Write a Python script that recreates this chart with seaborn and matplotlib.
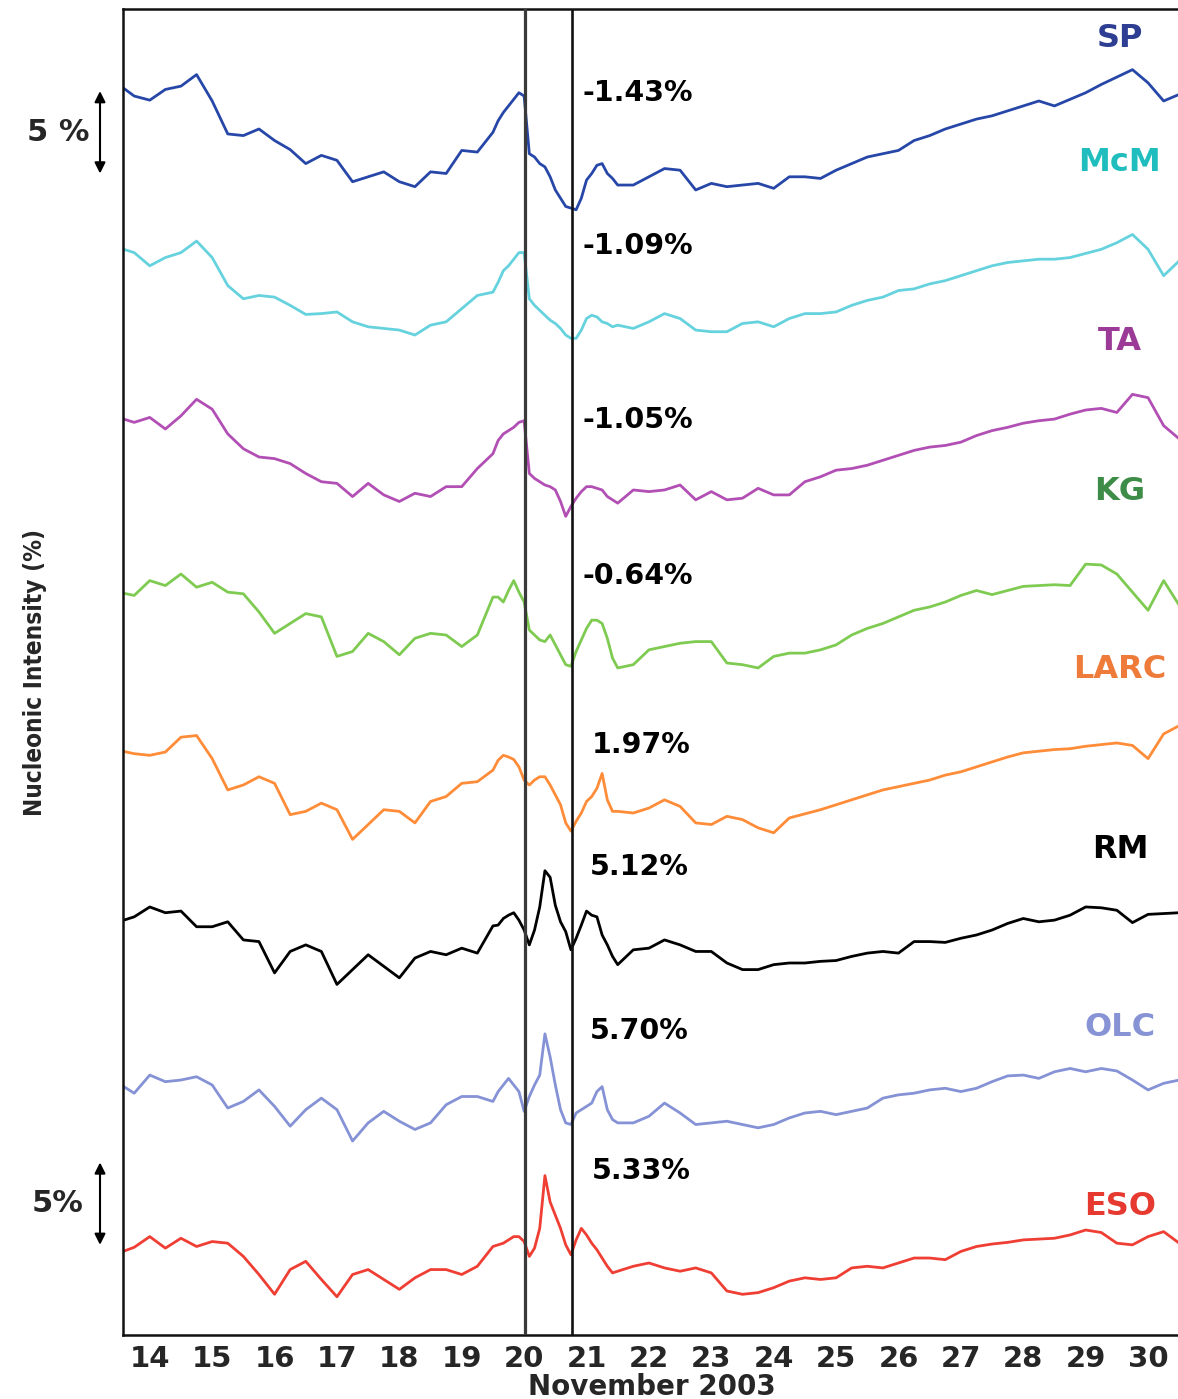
import numpy as np
import pandas as pd
import matplotlib
matplotlib.use("Agg")
import matplotlib.pyplot as plt
import seaborn as sns
from matplotlib.ticker import FixedLocator, MultipleLocator, FuncFormatter, NullFormatter

# ---------------- data ----------------
# sampling times (day of November 2003): 6-hourly, 2-hourly around the event, 6-hourly after
time_a = np.arange(14.0, 19.76, 0.25)
time_b = 20.0 + np.arange(24) / 12.0
time_c = np.arange(22.0, 31.01, 0.25)
times = np.concatenate([time_a, time_b, time_c])

stations = ["SP", "McM", "TA", "KG", "LARC", "RM", "OLC", "ESO"]

sp = [0.4, -0.3, -0.55, 0.1, 0.3, 1.0, -0.6, -2.6, -2.7, -2.3, -3.0, -3.55, -4.4, -3.9, -4.2, -5.5, -5.2, -4.9, -5.5, -5.8, -4.9, -5.0, -3.6, -3.7,
      -2.5, -1.8, -1.3, -0.9, -0.5, -0.1, -0.3, -3.8, -4.0, -4.4, -4.6, -5.2, -6.0, -6.5, -7.0, -7.1, -7.2, -6.5, -5.4, -5.0, -4.5, -4.4, -5.0, -5.3,
      -5.7, -5.7, -5.2, -4.7, -4.8, -6.0, -5.6, -5.8, -5.7, -5.6, -5.9, -5.2, -5.2, -5.3, -4.8, -4.4, -4.0, -3.8, -3.6, -3.0, -2.7, -2.3, -2.0, -1.7,
      -1.5, -1.2, -0.9, -0.6, -0.9, -0.5, -0.1, 0.4, 0.85, 1.3, 0.5, -0.6, -0.2]
mcm = [0.5, 0.2, -0.6, -0.1, 0.2, 0.9, -0.1, -1.8, -2.6, -2.4, -2.5, -3.0, -3.55, -3.5, -3.4, -4.0, -4.3, -4.4, -4.5, -4.8, -4.2, -4.0, -3.2, -2.4,
       -2.2, -1.6, -0.9, -0.6, -0.2, 0.2, 0.2, -2.6, -3.0, -3.3, -3.6, -3.9, -4.1, -4.4, -4.8, -5.0, -5.0, -4.5, -3.8, -3.6, -3.7, -4.0, -4.1, -4.3,
       -4.2, -4.4, -4.0, -3.5, -3.8, -4.5, -4.6, -4.6, -4.1, -4.0, -4.3, -3.8, -3.5, -3.5, -3.4, -3.0, -2.7, -2.5, -2.1, -2.0, -1.7, -1.5, -1.2, -0.9,
       -0.6, -0.4, -0.3, -0.2, -0.2, -0.1, 0.15, 0.4, 0.8, 1.3, 0.4, -1.2, -0.3]
ta = [0.2, -0.1, 0.2, -0.5, 0.3, 1.3, 0.7, -0.8, -1.7, -2.2, -2.3, -2.6, -3.2, -3.7, -3.8, -4.6, -3.8, -4.5, -4.9, -4.4, -4.6, -4.0, -4.0, -2.9,
      -2.0, -1.2, -0.8, -0.6, -0.4, -0.1, 0.0, -3.2, -3.5, -3.7, -3.9, -4.0, -4.2, -4.9, -5.8, -5.2, -4.7, -4.3, -4.0, -4.0, -4.1, -4.2, -4.6, -4.8,
      -5.0, -4.2, -4.3, -4.2, -3.9, -4.8, -4.3, -4.8, -4.7, -4.1, -4.5, -4.5, -3.7, -3.4, -3.0, -2.9, -2.7, -2.4, -2.1, -1.8, -1.6, -1.5, -1.3, -0.9,
      -0.6, -0.4, -0.15, 0.0, 0.1, 0.4, 0.65, 0.75, 0.5, 1.6, 1.4, -0.3, -1.1]
kg = [-0.4, -0.6, 0.3, 0.0, 0.7, -0.1, 0.2, -0.4, -0.5, -1.6, -2.9, -2.3, -1.7, -1.9, -4.3, -4.0, -2.9, -3.4, -4.2, -3.2, -2.9, -3.0, -3.7, -3.0,
      -0.7, -0.7, -1.0, -0.3, 0.3, -0.4, -1.0, -2.7, -3.0, -3.3, -3.4, -3.0, -3.6, -4.2, -4.8, -4.9, -4.0, -3.3, -2.6, -2.1, -2.1, -2.3, -3.2, -4.4,
      -5.0, -4.8, -3.9, -3.7, -3.5, -3.4, -3.4, -4.7, -4.8, -5.0, -4.3, -4.1, -4.1, -3.9, -3.6, -3.0, -2.6, -2.3, -1.9, -1.5, -1.3, -1.0, -0.6, -0.3,
      -0.55, -0.3, -0.05, 0.0, 0.05, 0.0, 1.3, 1.25, 0.7, -0.4, -1.5, 0.3, -1.2]
larc = [0.0, -0.2, -0.3, -0.1, 0.8, 0.9, -0.5, -2.4, -2.1, -1.6, -2.0, -3.9, -3.7, -3.2, -3.6, -5.4, -4.5, -3.6, -3.7, -4.4, -3.1, -2.8, -2.0, -1.9,
        -1.2, -0.6, -0.3, -0.4, -0.55, -1.0, -1.8, -2.1, -1.8, -1.6, -1.6, -2.1, -2.7, -3.3, -4.4, -4.9, -4.3, -3.8, -3.1, -2.8, -2.3, -1.4, -3.0, -3.7,
        -3.7, -3.8, -3.5, -3.0, -3.4, -4.4, -4.5, -4.0, -4.2, -4.7, -5.0, -4.1, -3.85, -3.6, -3.3, -3.0, -2.7, -2.4, -2.2, -2.0, -1.8, -1.5, -1.3, -1.0,
        -0.7, -0.4, -0.15, -0.05, 0.05, 0.1, 0.25, 0.35, 0.45, 0.3, -0.5, 1.0, 1.5]
rm = [-0.4, -0.1, 0.5, 0.15, 0.25, -0.7, -0.7, -0.4, -1.5, -1.6, -3.5, -2.2, -1.8, -2.2, -4.2, -3.3, -2.4, -3.1, -3.8, -2.6, -2.2, -2.4, -2.0, -2.3,
      -0.65, -0.6, -0.2, 0.0, 0.15, -0.3, -0.9, -1.8, -0.9, 0.5, 2.7, 2.3, 0.6, -0.4, -1.0, -2.1, -1.4, -0.6, 0.25, 0.0, -0.1, -1.2, -1.8, -2.5,
      -3.0, -2.1, -2.0, -1.5, -1.8, -2.2, -2.2, -2.9, -3.3, -3.3, -3.0, -2.9, -2.9, -2.8, -2.75, -2.5, -2.3, -2.2, -2.3, -1.6, -1.6, -1.65, -1.4, -1.2,
      -0.9, -0.5, -0.2, -0.4, -0.3, 0.0, 0.5, 0.45, 0.3, -0.45, 0.05, 0.1, 0.15]
olc = [-0.2, -0.8, 0.3, -0.1, 0.0, 0.2, -0.3, -1.7, -1.3, -0.6, -1.6, -2.8, -1.8, -1.1, -1.8, -3.7, -2.6, -1.9, -2.5, -3.0, -2.6, -1.5, -1.0, -1.0,
       -1.3, -0.7, -0.3, 0.1, -0.3, -0.7, -1.9, -1.0, -0.3, 0.3, 2.8, 1.4, -0.3, -1.8, -2.6, -2.7, -2.0, -1.8, -1.6, -1.4, -0.7, -0.4, -1.8, -2.4,
       -2.6, -2.6, -2.2, -1.4, -2.0, -2.7, -2.6, -2.5, -2.7, -2.9, -2.7, -2.3, -2.0, -1.9, -2.1, -1.9, -1.7, -1.1, -0.9, -0.8, -0.6, -0.5, -0.7, -0.5,
       -0.1, 0.25, 0.3, 0.1, 0.5, 0.7, 0.5, 0.7, 0.55, 0.0, -0.6, -0.2, 0.0]
eso = [-0.5, -0.15, 0.5, -0.2, 0.4, -0.1, 0.2, 0.1, -0.7, -1.8, -3.0, -1.5, -1.0, -2.1, -3.15, -1.8, -1.5, -2.1, -2.7, -2.0, -1.5, -1.5, -1.8, -1.3,
       -0.1, 0.0, 0.1, 0.3, 0.5, 0.5, 0.2, -0.7, -0.2, 1.0, 4.2, 2.6, 1.8, 1.0, 0.0, -0.6, 0.3, 1.0, 0.6, 0.1, -0.3, -0.8, -1.3, -1.7,
       -1.6, -1.3, -1.1, -1.4, -1.6, -1.4, -1.7, -2.8, -3.0, -2.9, -2.6, -2.2, -2.0, -2.1, -2.0, -1.4, -1.3, -1.4, -1.1, -0.8, -0.8, -0.9, -0.4, -0.1,
       0.05, 0.15, 0.3, 0.35, 0.4, 0.6, 0.9, 0.75, 0.1, 0.0, 0.5, 0.8, 0.1]

series = [sp, mcm, ta, kg, larc, rm, olc, eso]
pct_labels = ["-1.43%", "-1.09%", "-1.05%", "-0.64%", "1.97%", "5.12%", "5.70%", "5.33%"]
day_labels = list(range(14, 31))
event_lines = [20.51, 21.26]

# ---------------- styling / layout ----------------
line_colors = ["#2747a8", "#66d2de", "#b24fb4", "#7fcb52", "#ff8c38", "#000000", "#8592d5", "#ef3e33"]
label_colors = ["#2d3e93", "#1fbdbd", "#9b3b97", "#3d8c47", "#ee7b3a", "#000000", "#8793d4", "#e63a30"]
stack_step = -10.0
pct_x = [21.44, 21.44, 21.44, 21.44, 21.58, 21.55, 21.55, 21.58]
pct_y = [-0.12, -9.4, -19.95, -29.41, -39.66, -47.1, -57.0, -65.5]
name_x = 30.05
name_y = [3.21, -4.31, -15.22, -24.32, -35.11, -46.03, -56.82, -67.68]

sns.set_style("white")
plt.rcParams["font.family"] = ["DejaVu Sans"]
plt.rcParams["font.weight"] = "bold"

rows = []
for i, (name, vals) in enumerate(zip(stations, series)):
    for t, v in zip(times, vals):
        rows.append({"time": t, "value": v, "station": name, "y": v + stack_step * i})
df = pd.DataFrame(rows)

fig = plt.figure(figsize=(11.78, 13.99), dpi=100)
ax = fig.add_axes([0.10416, 0.04539, 0.89584, 0.94782])

sns.lineplot(data=df, x="time", y="y", hue="station", hue_order=stations,
             palette=line_colors, estimator=None, legend=False,
             linewidth=2.0, ax=ax)

for xv, lw, c in zip(event_lines, [2.3, 1.9], ["#3a3a3a", "#111111"]):
    ax.axvline(xv, color=c, lw=lw, zorder=5)

ax.set_xlim(14.066, 30.98)
ax.set_ylim(-75.5, 4.95)

# spines
for s in ["left", "top", "bottom"]:
    ax.spines[s].set_linewidth(1.8)
    ax.spines[s].set_color("#111111")
ax.spines["right"].set_visible(False)

# x ticks: integer days (major, unlabeled), 4-hour minor ticks; labels at noon
ax.xaxis.set_major_locator(MultipleLocator(1))
ax.xaxis.set_major_formatter(NullFormatter())
ax.xaxis.set_minor_locator(MultipleLocator(1.0 / 6.0))

def noon_label(x, pos):
    d = np.floor(x + 1e-6)
    if abs((x - d) - 0.5) < 0.02 and int(d) in day_labels:
        return str(int(d))
    return ""

ax.xaxis.set_minor_formatter(FuncFormatter(noon_label))
ax.tick_params(axis="x", which="major", direction="inout", length=13, width=1.8)
ax.tick_params(axis="x", which="minor", direction="in", length=5.5, width=1.2,
               labelsize=21, pad=7)

# y ticks: baselines (major) and 5% marks (minor)
ax.yaxis.set_major_locator(FixedLocator([stack_step * i for i in range(8)]))
ax.yaxis.set_minor_locator(FixedLocator([stack_step * i - 5 for i in range(7)]))
ax.tick_params(axis="y", which="major", direction="inout", length=18, width=1.8, labelleft=False)
ax.tick_params(axis="y", which="minor", direction="in", length=7, width=1.8, labelleft=False)

ax.set_xlabel("November 2003", fontsize=20, fontweight="bold")
ax.xaxis.set_label_coords(0.5016, -0.028)
ax.set_ylabel("Nucleonic Intensity (%)", fontsize=17.5, fontweight="bold", fontstretch="condensed",
              fontfamily=["Liberation Sans Narrow", "DejaVu Sans"])
ax.yaxis.set_label_coords(-0.0717, 0.5)

# percentage annotations
for x, y, s in zip(pct_x, pct_y, pct_labels):
    ax.text(x, y, s, fontsize=20.5, fontweight="bold", ha="left", va="center", color="black")

# station names
for y, s, c in zip(name_y, stations, label_colors):
    ax.text(name_x, y, s, fontsize=23, fontweight="bold", ha="center", va="center", color=c)

# 5% scale arrows
trans = ax.get_yaxis_transform()
for (y0, y1), lab in zip([(0, -5), (-65, -70)], ["5 %", "5%"]):
    ax.annotate("", xy=(-0.0215, y0), xytext=(-0.0215, y1), xycoords=trans, textcoords=trans,
                arrowprops=dict(arrowstyle="<|-|>", color="black", lw=1.5,
                                mutation_scale=16, shrinkA=0, shrinkB=0),
                annotation_clip=False)
    ax.text(-0.0613, (y0 + y1) / 2, lab, transform=trans, ha="center", va="center",
            fontsize=22, fontweight="bold", clip_on=False)

fig.savefig("out.png", dpi=100)
